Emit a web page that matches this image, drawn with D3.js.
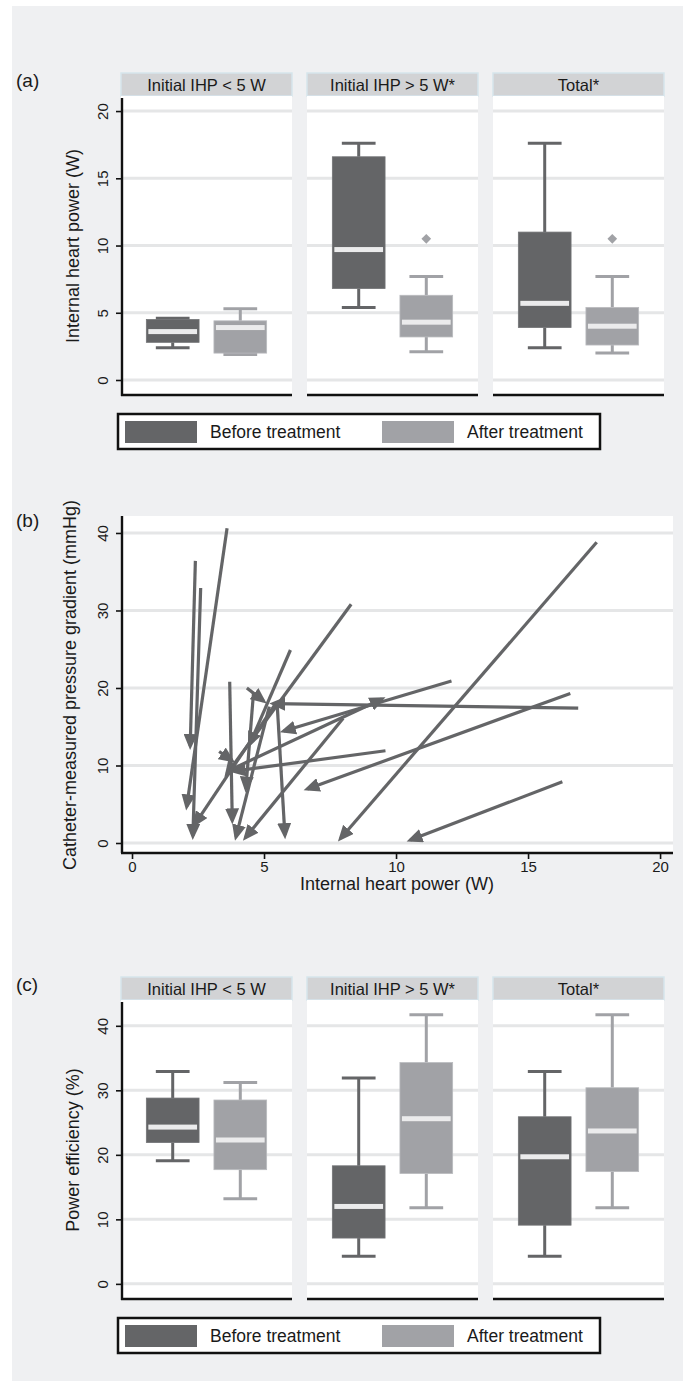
<!DOCTYPE html>
<html>
<head>
<meta charset="utf-8">
<script src="https://cdn.jsdelivr.net/npm/d3@7"></script>
<style>
  body { margin: 0; background: #fff; }
  svg text { font-family: "Liberation Sans", Arial, sans-serif; fill: #1a1a1a; }
</style>
</head>
<body>
<svg id="chart" width="691" height="1387"></svg>
<script>
// Facets and groups
const facets = ["Initial IHP < 5 W", "Initial IHP > 5 W*", "Total*"];
const groups = ["Before treatment", "After treatment"];

// (a) Internal heart power (W): [lower whisker, q1, median, q3, upper whisker]
const ihpBefore = [[2.4, 2.8, 3.6, 4.5, 4.6], [5.4, 6.8, 9.7, 16.6, 17.6], [2.4, 3.9, 5.7, 11.0, 17.6]];
const ihpAfter = [[1.9, 2.0, 3.9, 4.4, 5.3], [2.1, 3.2, 4.3, 6.3, 7.7], [2.0, 2.6, 4.0, 5.4, 7.7]];
const ihpAfterOutliers = [[], [10.5], [10.5]];
const ihpTicks = [0, 5, 10, 15, 20];

// (b) per patient: before -> after
const ihpPre = [3.6, 2.4, 2.6, 3.7, 4.35, 6.0, 8.3, 12.1, 9.6, 16.6, 16.3, 17.6, 16.9, 3.7, 5.5, 4.6, 5.4, 8.0, 5.2, 3.3];
const gradPre = [40.6, 36.4, 32.9, 20.8, 20.0, 24.9, 30.8, 20.9, 11.9, 19.3, 7.9, 38.8, 17.4, 9.4, 17.8, 19.3, 17.8, 16.1, 17.6, 11.8];
const ihpPost = [2.05, 2.2, 2.3, 3.8, 5.1, 4.4, 3.5, 5.6, 3.7, 6.5, 10.4, 7.8, 5.2, 9.6, 5.8, 4.3, 2.3, 4.2, 3.9, 3.9];
const gradPost = [4.2, 12.0, 0.4, 2.4, 18.0, 12.3, 8.5, 14.3, 9.2, 6.8, 0.2, 0.2, 18.0, 18.8, 0.5, 6.5, 2.0, 0.3, 0.3, 10.4];
const gradTicks = [0, 10, 20, 30, 40];
const ihpXTicks = [0, 5, 10, 15, 20];

// (c) Power efficiency (%)
const effBefore = [[19.1, 21.9, 24.3, 28.8, 32.9], [4.3, 7.1, 12.0, 18.3, 31.9], [4.3, 9.1, 19.7, 25.9, 32.9]];
const effAfter = [[13.2, 17.7, 22.3, 28.5, 31.2], [11.8, 17.1, 25.6, 34.3, 41.7], [11.8, 17.4, 23.7, 30.4, 41.7]];
const effTicks = [0, 10, 20, 30, 40];

// Colours
const colBefore = "#646567", colAfter = "#a1a2a6", colMedian = "#ebebec";
const colBg = "#eff0f2", colGrid = "#e5e6e7";
const colStrip = "#d2d3d5", colStripLine = "#d6e5ec";

const svg = d3.select("#chart");

svg.append("rect").attr("x", 12).attr("y", 6).attr("width", 671).attr("height", 1375).attr("fill", colBg);

// Facet layout
const xFacet = d3.scaleBand().domain(facets).range([121, 664]).paddingInner(15 / 186);
const xGroup = d3.scaleBand().domain(groups).range([0, xFacet.bandwidth()])
  .paddingInner(0.22).paddingOuter(0.375);

function yAxisLeft(g, y, ticks, x) {
  const ax = g.append("g")
    .attr("transform", "translate(" + x + ",0)")
    .call(d3.axisLeft(y).tickValues(ticks).tickSize(5));
  ax.attr("font-size", 15).attr("font-family", null);
  ax.select(".domain").remove();
  ax.selectAll(".tick line").attr("stroke", "#111").attr("stroke-width", 1.6);
  ax.selectAll(".tick text")
    .attr("x", null).attr("dy", null)
    .attr("text-anchor", "middle")
    .attr("transform", "translate(-13,0) rotate(-90)");
}

function legend(top) {
  const g = svg.append("g").attr("transform", "translate(118," + top + ")");
  g.append("rect").attr("width", 482).attr("height", 35)
    .attr("fill", "#fff").attr("stroke", "#111").attr("stroke-width", 2.5);
  const lx = d3.scaleBand().domain(groups).range([7, 521]);
  groups.forEach((k, i) => {
    g.append("rect").attr("x", lx(k)).attr("y", 7).attr("width", 72).attr("height", 22)
      .attr("fill", i ? colAfter : colBefore);
    g.append("text").attr("x", lx(k) + 85).attr("y", 18).attr("dy", "0.36em")
      .attr("font-size", 17.5).text(k);
  });
}

function boxPanel(o) {
  const g = svg.append("g");
  const plotTop = o.top + 23, plotBot = plotTop + 300;
  const y = d3.scaleLinear().domain(o.domain).range([plotBot, plotTop]);

  facets.forEach((f, i) => {
    const fx = xFacet(f), fw = xFacet.bandwidth();
    g.append("rect").attr("x", fx).attr("y", o.top).attr("width", fw).attr("height", 23)
      .attr("fill", colStrip).attr("stroke", colStripLine).attr("stroke-width", 1.5);
    g.append("text").attr("x", fx + fw / 2).attr("y", o.top + 12).attr("dy", "0.35em")
      .attr("text-anchor", "middle").attr("font-size", 16.5).text(f);
    g.append("rect").attr("x", fx).attr("y", plotTop).attr("width", fw).attr("height", 300)
      .attr("fill", "#fff");
    g.selectAll(null).data(o.ticks).enter().append("line")
      .attr("x1", fx).attr("x2", fx + fw)
      .attr("y1", d => y(d)).attr("y2", d => y(d))
      .attr("stroke", colGrid).attr("stroke-width", 3);

    [o.before[i], o.after[i]].forEach((s, j) => {
      const bw = xGroup.bandwidth(), cw = bw * 0.64;
      const cx = fx + xGroup(groups[j]) + bw / 2;
      const col = j ? colAfter : colBefore;
      const bg = g.append("g");
      bg.append("line").attr("x1", cx).attr("x2", cx).attr("y1", y(s[0])).attr("y2", y(s[1]))
        .attr("stroke", col).attr("stroke-width", 3);
      bg.append("line").attr("x1", cx).attr("x2", cx).attr("y1", y(s[3])).attr("y2", y(s[4]))
        .attr("stroke", col).attr("stroke-width", 3);
      [s[0], s[4]].forEach(v => {
        bg.append("line").attr("x1", cx - cw / 2).attr("x2", cx + cw / 2)
          .attr("y1", y(v)).attr("y2", y(v)).attr("stroke", col).attr("stroke-width", 3);
      });
      bg.append("rect").attr("x", cx - bw / 2).attr("y", y(s[3]))
        .attr("width", bw).attr("height", y(s[1]) - y(s[3]))
        .attr("fill", col).attr("stroke", d3.color(col).brighter(0.4)).attr("stroke-width", 0.8);
      bg.append("rect").attr("x", cx - bw / 2 + 2).attr("y", y(s[2]) - 2.5)
        .attr("width", bw - 4).attr("height", 5).attr("fill", colMedian);
      if (j === 1 && o.outliers) {
        o.outliers[i].forEach(v => {
          bg.append("path")
            .attr("transform", "translate(" + cx + "," + y(v) + ")")
            .attr("d", d3.symbol(d3.symbolDiamond2, 60)())
            .attr("fill", colAfter);
        });
      }
    });

    g.append("line").attr("x1", fx).attr("x2", fx + fw).attr("y1", plotBot - 1).attr("y2", plotBot - 1)
      .attr("stroke", "#111").attr("stroke-width", 2.4);
  });

  g.append("line").attr("x1", 122).attr("x2", 122).attr("y1", plotTop + 2).attr("y2", plotBot)
    .attr("stroke", "#111").attr("stroke-width", 2.4);
  yAxisLeft(g, y, o.ticks, 121);

  g.append("text")
    .attr("transform", "translate(79," + (plotTop + plotBot) / 2 + ") rotate(-90)")
    .attr("text-anchor", "middle").attr("font-size", 18).text(o.title);
  g.append("text").attr("x", 16).attr("y", o.top + 7).attr("dy", "0.35em")
    .attr("font-size", 19).text(o.label);

  legend(plotBot + 18);
}

// (a)
boxPanel({
  top: 73, domain: [-1.19, 21.12], ticks: ihpTicks,
  before: ihpBefore, after: ihpAfter, outliers: ihpAfterOutliers,
  title: "Internal heart power (W)", label: "(a)"
});

// (b) arrow plot
const xB = d3.scaleLinear().domain([-0.417, 20.49]).range([121, 673]);
const yB = d3.scaleLinear().domain([-1.29, 42.19]).range([853, 516]);
const gb = svg.append("g");
gb.append("rect").attr("x", 121).attr("y", 516).attr("width", 552).attr("height", 337).attr("fill", "#fff");
gb.selectAll(null).data(gradTicks).enter().append("line")
  .attr("x1", 121).attr("x2", 673)
  .attr("y1", d => yB(d)).attr("y2", d => yB(d))
  .attr("stroke", colGrid).attr("stroke-width", 3);

gb.append("defs").append("marker")
  .attr("id", "head").attr("markerUnits", "userSpaceOnUse")
  .attr("markerWidth", 17).attr("markerHeight", 14)
  .attr("refX", 12).attr("refY", 7).attr("orient", "auto")
  .append("path").attr("d", "M0,0 L16,7 L0,14 Z").attr("fill", colBefore);

const arrows = ihpPre.map((d, i) => ({ x0: ihpPre[i], y0: gradPre[i], x1: ihpPost[i], y1: gradPost[i] }));
gb.selectAll(null).data(arrows).enter().append("line")
  .each(function (d) {
    const ax = xB(d.x0), ay = yB(d.y0), bx = xB(d.x1), by = yB(d.y1);
    const len = Math.hypot(bx - ax, by - ay);
    const k = (len - 4) / len;
    d3.select(this)
      .attr("x1", ax).attr("y1", ay)
      .attr("x2", ax + (bx - ax) * k).attr("y2", ay + (by - ay) * k);
  })
  .attr("stroke", colBefore).attr("stroke-width", 3.2)
  .attr("marker-end", "url(#head)");

gb.append("line").attr("x1", 122).attr("x2", 122).attr("y1", 516).attr("y2", 853)
  .attr("stroke", "#111").attr("stroke-width", 2.4);
gb.append("line").attr("x1", 121).attr("x2", 673).attr("y1", 853).attr("y2", 853)
  .attr("stroke", "#111").attr("stroke-width", 2.4);
yAxisLeft(gb, yB, gradTicks, 121);

const xAx = gb.append("g").attr("transform", "translate(0,854)")
  .call(d3.axisBottom(xB).tickValues(ihpXTicks).tickSize(5).tickPadding(2));
xAx.attr("font-size", 15).attr("font-family", null);
xAx.select(".domain").remove();
xAx.selectAll(".tick line").attr("stroke", "#111").attr("stroke-width", 1.6);

gb.append("text").attr("x", 397).attr("y", 890).attr("text-anchor", "middle")
  .attr("font-size", 18).text("Internal heart power (W)");
gb.append("text")
  .attr("transform", "translate(76,685) rotate(-90)")
  .attr("text-anchor", "middle").attr("font-size", 18)
  .text("Catheter-measured pressure gradient (mmHg)");
gb.append("text").attr("x", 16).attr("y", 520).attr("dy", "0.35em")
  .attr("font-size", 19).text("(b)");

// (c)
boxPanel({
  top: 977, domain: [-2.5, 44], ticks: effTicks,
  before: effBefore, after: effAfter, outliers: null,
  title: "Power efficiency (%)", label: "(c)"
});
</script>
</body>
</html>
